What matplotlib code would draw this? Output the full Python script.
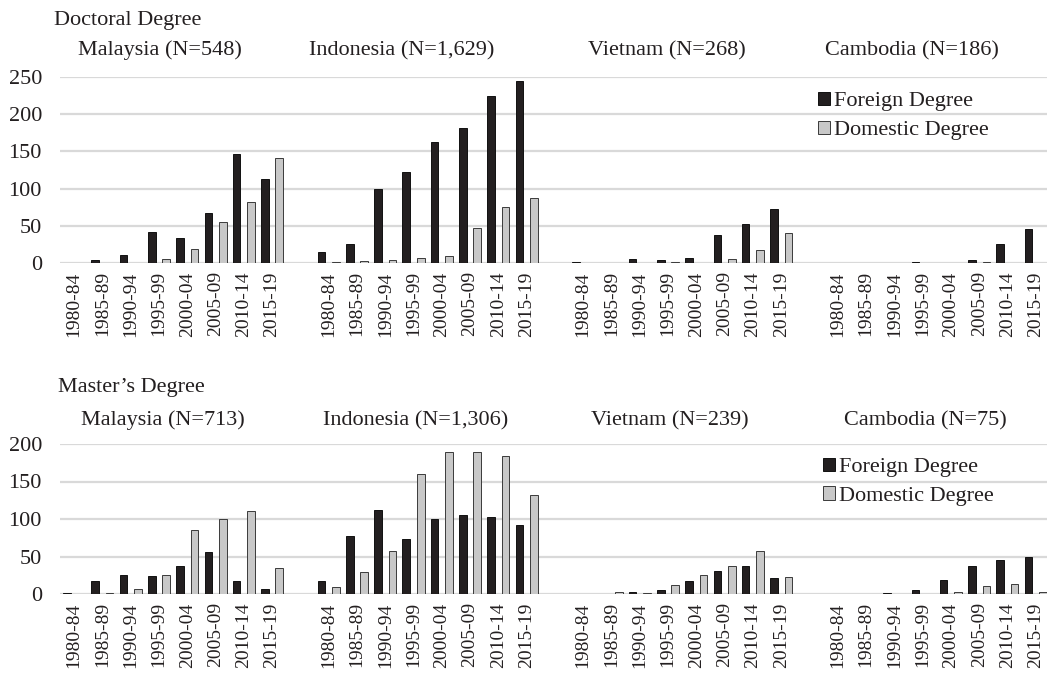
import matplotlib
matplotlib.use("Agg")
import matplotlib.pyplot as plt
import numpy as np
from matplotlib.patches import Patch

plt.rcParams['font.family'] = ['Liberation Serif', 'DejaVu Serif']

periods = ["1980-84", "1985-89", "1990-94", "1995-99",
           "2000-04", "2005-09", "2010-14", "2015-19"]

# ---- Doctoral degree ----
doc_titles = ["Malaysia (N=548)", "Indonesia (N=1,629)", "Vietnam (N=268)", "Cambodia (N=186)"]
doc_malaysia_foreign = [0, 4, 11, 41, 34, 67, 146, 113]
doc_malaysia_domestic = [0, 0, 0, 5, 19, 55, 82, 141]
doc_indonesia_foreign = [15, 25, 100, 122, 162, 181, 225, 245]
doc_indonesia_domestic = [1, 3, 4, 7, 10, 47, 75, 88]
doc_vietnam_foreign = [1, 0, 5, 4, 7, 37, 52, 72]
doc_vietnam_domestic = [0, 0, 0, 1, 0, 6, 17, 40]
doc_cambodia_foreign = [0, 0, 0, 1, 0, 4, 25, 46]
doc_cambodia_domestic = [0, 0, 0, 0, 0, 1, 0, 0]

# ---- Master's degree ----
mas_titles = ["Malaysia (N=713)", "Indonesia (N=1,306)", "Vietnam (N=239)", "Cambodia (N=75)"]
mas_malaysia_foreign = [1, 17, 26, 24, 38, 56, 17, 7]
mas_malaysia_domestic = [0, 1, 7, 26, 86, 100, 111, 35]
mas_indonesia_foreign = [17, 78, 112, 73, 100, 105, 103, 92]
mas_indonesia_domestic = [10, 30, 57, 160, 190, 189, 184, 132]
mas_vietnam_foreign = [0, 0, 3, 6, 17, 31, 38, 22]
mas_vietnam_domestic = [0, 3, 1, 12, 25, 37, 57, 23]
mas_cambodia_foreign = [0, 0, 1, 5, 19, 37, 46, 49]
mas_cambodia_domestic = [0, 0, 0, 0, 3, 11, 14, 3]

doc_foreign = [doc_malaysia_foreign, doc_indonesia_foreign, doc_vietnam_foreign, doc_cambodia_foreign]
doc_domestic = [doc_malaysia_domestic, doc_indonesia_domestic, doc_vietnam_domestic, doc_cambodia_domestic]
mas_foreign = [mas_malaysia_foreign, mas_indonesia_foreign, mas_vietnam_foreign, mas_cambodia_foreign]
mas_domestic = [mas_malaysia_domestic, mas_indonesia_domestic, mas_vietnam_domestic, mas_cambodia_domestic]

W, H = 1047, 678
fig = plt.figure(figsize=(W / 100, H / 100), dpi=100)

TEXT = "#231F20"
FOREIGN = "#231F20"
DOMESTIC = "#C8C8C8"
GRID = "#D9D9D9"

group_offsets = [0, 9, 18, 27]
bar_w = 0.27
off = 0.255


def px_axes(x0, y_top, x1, y_bot):
    return [x0 / W, 1 - y_bot / H, (x1 - x0) / W, (y_bot - y_top) / H]


def draw_row(ax, foreign, domestic, ymax):
    ticks, labels = [], []
    for g, (f, d) in enumerate(zip(foreign, domestic)):
        x = group_offsets[g] + np.arange(len(periods))
        ax.bar(x - off, f, width=bar_w, color=FOREIGN, edgecolor="#111111", linewidth=0.7, zorder=3)
        ax.bar(x + off, d, width=bar_w, color=DOMESTIC, edgecolor="#3A3A3A", linewidth=0.7, zorder=3)
        ticks.extend(x)
        labels.extend(periods)
    ax.set_xticks(ticks)
    ax.set_xticklabels(labels, rotation=90, fontsize=14, color=TEXT)
    ax.set_xlim(-0.5, 34.4)
    ax.set_ylim(0, ymax)
    ax.set_yticks(np.arange(0, ymax + 1, 50))
    ax.tick_params(axis='y', labelsize=16, colors=TEXT, length=0, pad=13)
    ax.tick_params(axis='x', length=0, pad=6)
    for s in ax.spines.values():
        s.set_visible(False)
    ax.grid(axis='y', color=GRID, linewidth=1.6, zorder=0)
    ax.set_axisbelow(True)
    ax.patch.set_alpha(0)
    handles = [Patch(facecolor=FOREIGN, edgecolor="#111111", linewidth=0.7, label="Foreign Degree"),
               Patch(facecolor=DOMESTIC, edgecolor="#3A3A3A", linewidth=0.7, label="Domestic Degree")]
    return handles


legend_kw = dict(loc='upper left', frameon=False, fontsize=16, handlelength=0.55,
                 handleheight=0.55, handletextpad=0.15, labelspacing=0.42,
                 borderpad=0, borderaxespad=0, labelcolor=TEXT)

ax1 = fig.add_axes(px_axes(60, 77, 1047, 263))
h = draw_row(ax1, doc_foreign, doc_domestic, 250)
ax1.legend(handles=h, bbox_to_anchor=(0.768, 0.92), **legend_kw)

ax2 = fig.add_axes(px_axes(60, 444, 1047, 594))
h = draw_row(ax2, mas_foreign, mas_domestic, 200)
ax2.legend(handles=h, bbox_to_anchor=(0.773, 0.91), **legend_kw)

# Section and country titles
fig.text(54 / W, 1 - 25 / H, "Doctoral Degree", fontsize=16, color=TEXT, ha='left', va='baseline')
fig.text(58 / W, 1 - 392 / H, "Master\u2019s Degree", fontsize=16, color=TEXT, ha='left', va='baseline')

title_x_top = [160, 402, 667, 912]
title_x_bot = [163, 416, 670, 925]
for t, x in zip(doc_titles, title_x_top):
    fig.text(x / W, 1 - 55 / H, t, fontsize=16, color=TEXT, ha='center', va='baseline')
for t, x in zip(mas_titles, title_x_bot):
    fig.text(x / W, 1 - 425 / H, t, fontsize=16, color=TEXT, ha='center', va='baseline')

fig.savefig("out.png", dpi=100)
